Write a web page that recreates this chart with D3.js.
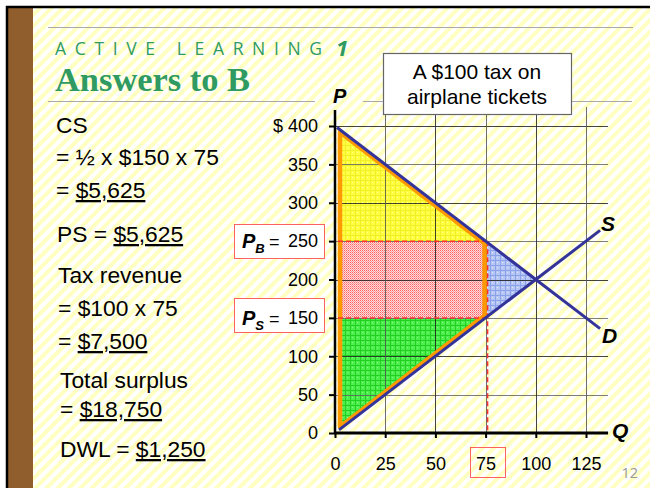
<!DOCTYPE html>
<html>
<head>
<meta charset="utf-8">
<script src="https://cdn.jsdelivr.net/npm/d3@7"></script>
<style>
  body { margin: 0; background: #fff; }
  svg { display: block; }
</style>
</head>
<body>
<div id="slide"></div>
<script>
// axis values
const qTicks = [0, 25, 50, 75, 100, 125];
const pTicks = [0, 50, 100, 150, 200, 250, 300, 350, 400];

// supply & demand curves [Q, P]
const demand = [[1, 398], [132, 136]];
const supply = [[2, 4], [132, 264]];

// shaded areas [Q, P]
const csArea = [[2.5, 395], [75, 250], [2.5, 250]];
const taxArea = [[1.5, 250], [75, 250], [75, 150], [1.5, 150]];
const psArea = [[2.5, 150], [75, 150], [2.5, 5]];
const dwlArea = [[75, 250], [100, 200], [75, 150]];
const orangeOutline = [[2.5, 392], [74.5, 247], [74.5, 153], [2.5, 8]];
const taxDashes = [
  [[1.5, 250], [76, 250]],
  [[1.5, 150], [76, 150]],
  [[76, 250], [76, 0]]
];

// left text lines
const leftLines = [
  { parts: [["CS", false]], x: 56, y: 133 },
  { parts: [["= ½ x $150 x 75", false]], x: 56, y: 165 },
  { parts: [["= ", false], ["$5,625", true]], x: 56, y: 198 },
  { parts: [["PS = ", false], ["$5,625", true]], x: 57, y: 242 },
  { parts: [["Tax revenue", false]], x: 58, y: 283 },
  { parts: [["= $100 x 75", false]], x: 58, y: 316 },
  { parts: [["= ", false], ["$7,500", true]], x: 58, y: 349 },
  { parts: [["Total surplus", false]], x: 60, y: 388 },
  { parts: [["= ", false], ["$18,750", true]], x: 60, y: 417 },
  { parts: [["DWL = ", false], ["$1,250", true]], x: 60, y: 457 }
];

const width = 650, height = 488;
const green = "#2f9a62";
const sans = "'Liberation Sans', Arial, sans-serif";

const svg = d3.select("#slide").append("svg")
  .attr("width", width).attr("height", height)
  .attr("font-family", sans);

const defs = svg.append("defs");

// background stripes
const bg = defs.append("pattern").attr("id", "stripes")
  .attr("patternUnits", "userSpaceOnUse").attr("width", 8).attr("height", 8)
  .attr("patternTransform", "rotate(45)");
bg.append("rect").attr("width", 8).attr("height", 8).attr("fill", "#fff");
bg.append("rect").attr("width", 4).attr("height", 8).attr("fill", "#ffffc2");

function gridPattern(id, base, line, dot) {
  const p = defs.append("pattern").attr("id", id)
    .attr("patternUnits", "userSpaceOnUse").attr("width", 5).attr("height", 5);
  p.append("rect").attr("width", 5).attr("height", 5).attr("fill", base);
  p.append("rect").attr("x", 2).attr("y", 2).attr("width", 1).attr("height", 1).attr("fill", dot);
  p.append("path").attr("d", "M0 0.5H5M0.5 0V5").attr("stroke", line).attr("stroke-width", 1);
}
gridPattern("yellowFill", "#ffff40", "#f0f028", "#ffffa0");
gridPattern("greenFill", "#4def4d", "#24cf24", "#8af78a");
gridPattern("blueFill", "#b8c6f4", "#8aa2ea", "#dfe6fb");

const red = defs.append("pattern").attr("id", "redFill")
  .attr("patternUnits", "userSpaceOnUse").attr("width", 2).attr("height", 2);
red.append("rect").attr("width", 2).attr("height", 2).attr("fill", "#ffdada");
red.append("rect").attr("width", 1).attr("height", 1).attr("fill", "#ff6262");
red.append("rect").attr("x", 1).attr("y", 1).attr("width", 1).attr("height", 1).attr("fill", "#ff9999");

// slide background
svg.append("rect").attr("x", 6).attr("y", 6).attr("width", width - 6).attr("height", height - 6)
  .attr("fill", "url(#stripes)");
svg.append("rect").attr("x", 8).attr("y", 8).attr("width", 25).attr("height", height - 8)
  .attr("fill", "#8f5e2c");
svg.append("line").attr("x1", 7).attr("x2", 7).attr("y1", 6).attr("y2", height)
  .attr("stroke", "#000").attr("stroke-width", 2.5);
svg.append("line").attr("x1", 6).attr("x2", width).attr("y1", 7).attr("y2", 7)
  .attr("stroke", "#000").attr("stroke-width", 2.5);

// gray rules
svg.append("line").attr("x1", 48).attr("x2", 633).attr("y1", 27.5).attr("y2", 27.5)
  .attr("stroke", "#aaa");
svg.append("line").attr("x1", 48).attr("x2", 315).attr("y1", 101.5).attr("y2", 101.5)
  .attr("stroke", "#aaa");
svg.append("line").attr("x1", 363).attr("x2", 632).attr("y1", 101.5).attr("y2", 101.5)
  .attr("stroke", "#aaa");

// title
svg.append("text").attr("x", 55).attr("y", 55)
  .attr("font-family", "'Open Sans', sans-serif").attr("font-size", 17.5)
  .attr("fill", green).attr("textLength", 267).attr("lengthAdjust", "spacing")
  .text("ACTIVE LEARNING");
svg.append("text").attr("x", 336).attr("y", 56)
  .attr("font-family", "'Open Sans', sans-serif").attr("font-size", 22)
  .attr("font-weight", "bold").attr("font-style", "italic")
  .attr("fill", green).text("1");
svg.append("text").attr("x", 55).attr("y", 91)
  .attr("font-family", "'Liberation Serif', 'DejaVu Serif', serif").attr("font-size", 34)
  .attr("font-weight", "bold").attr("fill", green)
  .attr("textLength", 195).attr("lengthAdjust", "spacingAndGlyphs")
  .text("Answers to B");

// left text
leftLines.forEach(l => {
  const t = svg.append("text").attr("x", l.x).attr("y", l.y)
    .attr("font-size", 22.8).attr("fill", "#000");
  l.parts.forEach(([s, u]) => {
    t.append("tspan").attr("text-decoration", u ? "underline" : null).text(s);
  });
});

// scales
const x = d3.scaleLinear().domain([0, 125]).range([335, 586]);
const y = d3.scaleLinear().domain([0, 400]).range([433, 126]);

const chart = svg.append("g");
const area = d3.line().x(d => x(d[0])).y(d => y(d[1]));

// shaded areas
chart.append("path").attr("d", area(csArea) + "Z").attr("fill", "url(#yellowFill)");
chart.append("path").attr("d", area(taxArea) + "Z").attr("fill", "url(#redFill)");
chart.append("path").attr("d", area(psArea) + "Z").attr("fill", "url(#greenFill)");
chart.append("path").attr("d", area(dwlArea) + "Z").attr("fill", "url(#blueFill)");

// gridlines
chart.selectAll(".hgrid").data(pTicks.filter(d => d > 0)).join("line")
  .attr("x1", x(0)).attr("x2", x(136))
  .attr("y1", d => Math.round(y(d)) + 0.5).attr("y2", d => Math.round(y(d)) + 0.5)
  .attr("stroke", (d, i) => i % 2 ? "#222" : "#666").attr("stroke-opacity", 0.85);
chart.selectAll(".vgrid").data(qTicks.filter(d => d > 0)).join("line")
  .attr("x1", d => Math.round(x(d)) + 0.5).attr("x2", d => Math.round(x(d)) + 0.5)
  .attr("y1", y(0)).attr("y2", 107)
  .attr("stroke", (d, i) => i % 2 ? "#222" : "#555").attr("stroke-opacity", 0.85);

// orange outline
chart.append("path").attr("d", area(orangeOutline) + "Z")
  .attr("fill", "none").attr("stroke", "#ff9900").attr("stroke-width", 4.5)
  .attr("stroke-linejoin", "round");

// red dashed lines
taxDashes.forEach(seg => {
  chart.append("path").attr("d", area(seg))
    .attr("fill", "none").attr("stroke", "#ff3030").attr("stroke-width", 1.5)
    .attr("stroke-dasharray", "5,3");
});

// supply & demand
[demand, supply].forEach(c => {
  chart.append("path").attr("d", area(c))
    .attr("fill", "none").attr("stroke", "#333399").attr("stroke-width", 3);
});

// axes
const yAxis = d3.axisLeft(y).tickValues(pTicks).tickSize(6).tickPadding(11)
  .tickFormat(d => d === 400 ? "$ 400" : d);
const gy = chart.append("g").attr("transform", `translate(${x(0)},0)`).call(yAxis);
gy.select(".domain").remove();
gy.selectAll(".tick line").attr("stroke", "#000").attr("stroke-width", 2);
gy.selectAll(".tick text").attr("font-size", 18).attr("font-family", sans).attr("fill", "#000");

const xAxis = d3.axisBottom(x).tickValues(qTicks).tickSize(5).tickPadding(19);
const gx = chart.append("g").attr("transform", `translate(0,${y(0)})`).call(xAxis);
gx.select(".domain").remove();
gx.selectAll(".tick line").attr("stroke", "#000").attr("stroke-width", 2);
gx.selectAll(".tick text").attr("font-size", 18).attr("font-family", sans).attr("fill", "#000");

chart.append("line").attr("x1", x(0)).attr("x2", x(0)).attr("y1", y(0) + 1).attr("y2", 110)
  .attr("stroke", "#000").attr("stroke-width", 2.5);
chart.append("line").attr("x1", x(0) - 1).attr("x2", x(136)).attr("y1", y(0)).attr("y2", y(0))
  .attr("stroke", "#000").attr("stroke-width", 3);

// axis letters
const bi = (s, tx, ty, fs) => svg.append("text").attr("x", tx).attr("y", ty)
  .attr("font-size", fs).attr("font-weight", "bold").attr("font-style", "italic").text(s);
bi("P", 333, 103, 20);
bi("Q", 612, 438, 21);
bi("S", 601, 231, 21);
bi("D", 602, 343, 21);

// price boxes
function priceBox(sub, p, top) {
  svg.append("rect").attr("x", 234.5).attr("y", top + 0.5).attr("width", 90).attr("height", 34)
    .attr("fill", "#fff").attr("stroke", "#ff6060").attr("stroke-width", 1);
  const t = svg.append("text").attr("x", 242).attr("y", y(p) + 7).attr("font-size", 18);
  t.append("tspan").attr("font-size", 20).attr("font-weight", "bold").attr("font-style", "italic").text("P");
  t.append("tspan").attr("font-size", 13).attr("font-weight", "bold").attr("font-style", "italic")
    .attr("dy", 5).text(sub);
  t.append("tspan").attr("x", 269).attr("dy", -5).text("=");
}
priceBox("B", 250, 224);
priceBox("S", 150, 298);
// redraw tick labels over the boxes
[250, 150].forEach(p => {
  svg.append("text").attr("x", x(0) - 17).attr("y", y(p)).attr("dy", "0.32em")
    .attr("text-anchor", "end").attr("font-size", 18).text(p);
});

// Q = 75 box
svg.append("rect").attr("x", 470.5).attr("y", 447.5).attr("width", 35).attr("height", 30)
  .attr("fill", "none").attr("stroke", "#ff6060");

// callout box
svg.append("rect").attr("x", 383.5).attr("y", 53.5).attr("width", 188).attr("height", 61)
  .attr("fill", "#fff").attr("stroke", "#666").attr("stroke-width", 1.2);
svg.append("text").attr("x", 477).attr("y", 79).attr("text-anchor", "middle")
  .attr("font-size", 21).text("A $100 tax on");
svg.append("text").attr("x", 477).attr("y", 104).attr("text-anchor", "middle")
  .attr("font-size", 21).text("airplane tickets");

// page number
svg.append("text").attr("x", 638).attr("y", 478).attr("text-anchor", "end")
  .attr("font-family", "'Open Sans', sans-serif").attr("font-size", 14.5).attr("fill", "#999").text("12");
</script>
</body>
</html>
